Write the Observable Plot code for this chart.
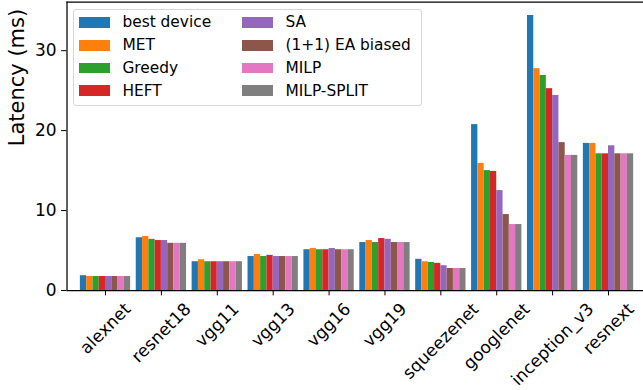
<!DOCTYPE html>
<html>
<head>
<meta charset="utf-8">
<script src="https://cdn.jsdelivr.net/npm/d3@7"></script>
<script src="https://cdn.jsdelivr.net/npm/@observablehq/plot@0.6"></script>
<style>
  body { margin: 0; background: white; }
  #chart { position: relative; width: 643px; height: 390px; overflow: hidden; font-family: "DejaVu Sans", sans-serif; }
  #legend {
    position: absolute; left: 73px; top: 9px; width: 349px; height: 97px; box-sizing: border-box;
    border: 1px solid #d6d6d6; border-radius: 3px; background: rgba(255,255,255,0.8);
    padding: 1px 0 0 5px;
    display: grid; grid-auto-flow: column; grid-template-rows: repeat(4, 22.8px); column-gap: 31px;
    justify-content: start; font-size: 15.4px; color: black;
  }
  #legend .item { display: flex; align-items: center; white-space: nowrap; }
  #legend .sw { width: 31px; height: 10.8px; margin-right: 12.4px; }
</style>
</head>
<body>
<div id="chart"></div>
<script>
// Models on the x axis
const models = ["alexnet", "resnet18", "vgg11", "vgg13", "vgg16", "vgg19", "squeezenet", "googlenet", "inception_v3", "resnext"];

// Scheduling methods and their colours
const methods = ["best device", "MET", "Greedy", "HEFT", "SA", "(1+1) EA biased", "MILP", "MILP-SPLIT"];
const colors = ["#1f77b4", "#ff7f0e", "#2ca02c", "#d62728", "#9467bd", "#8c564b", "#e377c2", "#7f7f7f"];

// Latency (ms) per model, one array per method
const bestDevice = [1.85, 6.6, 3.6, 4.25, 5.1, 6.0, 3.9, 20.75, 34.4, 18.4];
const met        = [1.75, 6.75, 3.85, 4.5, 5.25, 6.25, 3.6, 15.9, 27.75, 18.4];
const greedy     = [1.75, 6.4, 3.6, 4.25, 5.1, 6.0, 3.5, 15.0, 26.9, 17.1];
const heft       = [1.75, 6.25, 3.6, 4.4, 5.1, 6.5, 3.4, 14.9, 25.25, 17.1];
const sa         = [1.75, 6.25, 3.6, 4.25, 5.25, 6.4, 3.1, 12.5, 24.4, 18.1];
const eaBiased   = [1.75, 5.9, 3.6, 4.25, 5.1, 6.0, 2.75, 9.5, 18.5, 17.1];
const milp       = [1.75, 5.9, 3.6, 4.25, 5.1, 6.0, 2.75, 8.25, 16.9, 17.1];
const milpSplit  = [1.75, 5.9, 3.6, 4.25, 5.1, 6.0, 2.75, 8.25, 16.9, 17.1];

const yTicks = [0, 10, 20, 30];

const series = [bestDevice, met, greedy, heft, sa, eaBiased, milp, milpSplit];
const barWidth = 0.9 / methods.length;

// Long table: one row per bar, placed around its model's integer position
const rows = [];
series.forEach((vals, m) => {
  vals.forEach((v, g) => {
    const x1 = g + (m - methods.length / 2) * barWidth;
    rows.push({model: models[g], method: methods[m], value: v, x1, x2: x1 + barWidth});
  });
});

// Rotated tick labels are centred under their tick, so each needs its own offset
const tickFont = 17;
const ctx = document.createElement("canvas").getContext("2d");
ctx.font = `${tickFont}px "DejaVu Sans"`;
const labelMarks = models.map((name, i) => {
  const w = ctx.measureText(name).width;
  const dy = 11 + (w + tickFont * 0.8) * Math.SQRT1_2 / 2;
  return Plot.text([name], {x: () => i, y: () => 0, text: d => d, rotate: -45, textAnchor: "middle", lineAnchor: "middle", dy, fontSize: tickFont, fill: "black"});
});

const xDomain = [-0.689, 9.626];
const yDomain = [0, 36.09];

const plot = Plot.plot({
  width: 643,
  height: 390,
  marginLeft: 66.5,
  marginRight: 0,
  marginTop: 1.5,
  marginBottom: 100,
  style: {fontFamily: "DejaVu Sans", fontSize: `${tickFont}px`, color: "black", background: "white", overflow: "visible"},
  x: {domain: xDomain, ticks: d3.range(models.length), tickFormat: () => "", tickSize: 5.4, label: null},
  y: {domain: yDomain, ticks: yTicks, tickSize: 5.4, tickPadding: 5, label: null},
  color: {domain: methods, range: colors},
  marks: [
    Plot.rectY(rows, {x1: "x1", x2: "x2", y1: 0, y2: "value", fill: "method"}),
    Plot.ruleY([yDomain[0]], {stroke: "black", strokeWidth: 1.25}),
    Plot.ruleY([yDomain[1]], {stroke: "black", strokeWidth: 1.25}),
    Plot.ruleX([xDomain[0]], {stroke: "black", strokeWidth: 1.25}),
    ...labelMarks,
    Plot.text(["Latency (ms)"], {frameAnchor: "left", rotate: -90, dx: -50, fontSize: 21, fill: "black", text: d => d})
  ]
});

const chart = document.getElementById("chart");
chart.appendChild(plot);

// Two-column legend drawn over the plot area
const legend = document.createElement("div");
legend.id = "legend";
methods.forEach((name, i) => {
  const item = document.createElement("div");
  item.className = "item";
  const sw = document.createElement("span");
  sw.className = "sw";
  sw.style.background = colors[i];
  const label = document.createElement("span");
  label.textContent = name;
  item.appendChild(sw);
  item.appendChild(label);
  legend.appendChild(item);
});
chart.appendChild(legend);
</script>
</body>
</html>
